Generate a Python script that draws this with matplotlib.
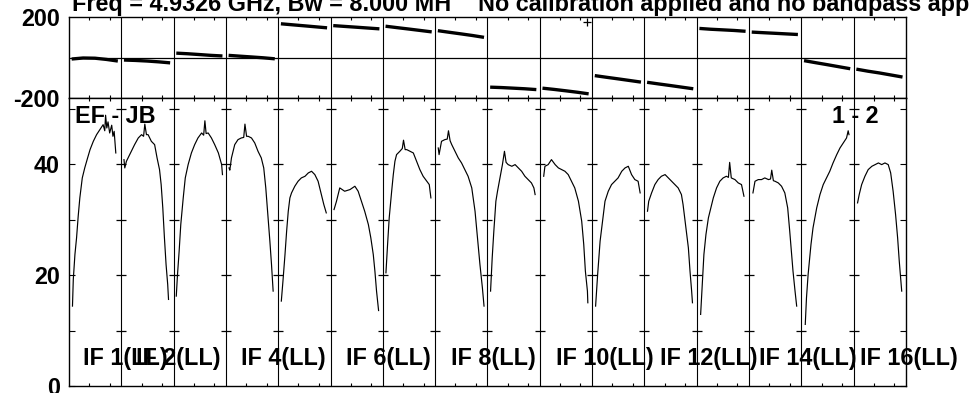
import numpy as np
import matplotlib
matplotlib.use("Agg")
import matplotlib.pyplot as plt

plt.rcParams['font.family'] = ['Liberation Sans', 'DejaVu Sans']
plt.rcParams['font.weight'] = 'bold'
plt.rcParams['axes.unicode_minus'] = False
FS = 16.8

N_CHAN = 128
N_IF = 16

# ---------------- amplitude (Jy) per IF : channel, value ----------------
ch01 = [9, 11, 15, 19, 23, 27, 33, 39, 46, 52, 60, 68, 76, 84, 88, 90, 93, 96, 100, 105, 108, 111, 115]
amp01 = [14.4, 19.2, 23.7, 26.7, 30.6, 33.9, 37.5, 39.3, 41.1, 42.6, 44.1, 45.3, 46.2, 47.1, 46.0, 48.8, 46.5, 47.6, 45.6, 47.0, 45.0, 45.9, 42.0]
ch02 = [7, 9, 13, 17, 25, 33, 42, 50, 55, 58, 62, 66, 74, 82, 88, 94, 98, 102, 106, 110, 114, 116]
amp02 = [40.8, 39.3, 40.5, 41.1, 42.3, 43.5, 44.7, 45.3, 45.0, 47.2, 45.3, 45.3, 44.1, 43.5, 41.1, 39.0, 36.3, 32.1, 26.7, 21.9, 18.3, 15.6]
ch03 = [7, 10, 14, 18, 24, 29, 36, 44, 52, 60, 69, 74, 77, 80, 85, 93, 101, 110, 118, 120]
amp03 = [16.2, 20.1, 24.3, 29.1, 33.9, 37.5, 39.9, 42.0, 43.5, 44.7, 45.6, 45.2, 47.8, 45.5, 45.6, 44.7, 43.5, 42.0, 39.9, 38.1]
ch04 = [8, 10, 14, 22, 30, 38, 44, 47, 51, 55, 63, 71, 79, 87, 93, 98, 103, 108, 112, 116]
amp04 = [39.3, 38.9, 41.1, 43.5, 44.4, 44.7, 44.8, 47.2, 45.0, 45.0, 44.7, 43.8, 42.3, 41.1, 39.3, 35.7, 30.9, 26.1, 21.9, 17.1]
ch05 = [8, 12, 17, 21, 25, 29, 33, 41, 49, 57, 66, 74, 82, 90, 98, 106, 112, 118]
amp05 = [15.3, 18.9, 23.7, 27.9, 31.5, 33.9, 34.8, 36.0, 36.9, 37.5, 37.8, 38.4, 38.7, 38.1, 36.9, 34.5, 32.7, 31.2]
ch06 = [9, 15, 23, 35, 48, 60, 68, 76, 84, 93, 99, 105, 109, 113, 118]
amp06 = [31.8, 33.3, 35.7, 35.1, 35.4, 36.0, 35.1, 33.3, 31.5, 29.1, 26.7, 23.7, 20.7, 17.1, 13.6]
ch07 = [8, 12, 16, 22, 26, 30, 34, 42, 48, 51, 55, 59, 67, 75, 83, 91, 99, 108, 114, 118]
amp07 = [20.4, 25.5, 30.3, 35.1, 38.1, 40.5, 41.7, 42.3, 42.8, 44.3, 42.6, 42.6, 42.3, 42.0, 40.5, 39.0, 37.8, 36.9, 36.3, 33.9]
ch08 = [8, 10, 16, 24, 30, 33, 37, 41, 49, 57, 65, 73, 81, 90, 98, 104, 110, 116, 120]
amp08 = [42.9, 41.7, 44.1, 44.4, 44.5, 46.0, 44.2, 43.5, 42.3, 41.1, 40.2, 39.0, 37.8, 35.7, 31.5, 26.7, 21.9, 17.7, 14.4]
ch09 = [8, 12, 16, 21, 25, 31, 37, 42, 46, 51, 60, 68, 76, 84, 92, 100, 108, 114, 117]
amp09 = [17.1, 23.1, 27.9, 33.3, 35.1, 37.5, 39.9, 42.3, 40.3, 39.9, 39.6, 39.9, 39.3, 38.7, 37.8, 37.2, 36.6, 35.7, 34.5]
ch10 = [10, 13, 21, 29, 38, 46, 54, 62, 70, 78, 86, 95, 103, 108, 112, 117, 118]
amp10 = [37.8, 39.6, 39.9, 40.8, 39.9, 39.3, 39.0, 38.7, 38.1, 36.9, 35.7, 33.3, 29.7, 25.5, 20.7, 17.1, 15.0]
ch11 = [9, 14, 20, 24, 28, 32, 40, 48, 56, 64, 73, 81, 89, 97, 105, 113, 118]
amp11 = [14.4, 20.1, 26.1, 28.5, 30.9, 33.3, 35.1, 36.3, 36.9, 37.5, 38.7, 39.3, 39.6, 38.1, 37.2, 36.9, 34.8]
ch12 = [8, 11, 18, 26, 34, 42, 51, 59, 67, 75, 83, 91, 95, 99, 103, 108, 112, 116, 118]
amp12 = [31.5, 33.3, 34.8, 36.3, 37.2, 37.8, 38.1, 37.5, 36.9, 36.3, 35.7, 34.5, 32.7, 30.3, 27.9, 24.9, 20.7, 17.1, 15.0]
ch13 = [10, 14, 18, 23, 29, 35, 41, 49, 57, 65, 73, 78, 81, 85, 94, 102, 110, 116]
amp13 = [12.9, 18.3, 23.7, 27.3, 30.3, 32.1, 33.9, 35.7, 36.9, 37.5, 37.8, 37.6, 40.3, 37.5, 37.2, 36.6, 36.3, 34.2]
ch14 = [10, 15, 23, 31, 39, 48, 53, 56, 60, 64, 72, 80, 88, 95, 100, 104, 108, 113, 117]
amp14 = [34.8, 36.9, 37.2, 37.2, 37.5, 37.2, 37.3, 38.9, 37.0, 36.9, 36.6, 36.0, 34.8, 32.1, 27.9, 24.3, 20.7, 17.1, 14.4]
ch15 = [10, 13, 17, 24, 29, 38, 46, 54, 62, 70, 78, 87, 95, 103, 111, 115, 117]
amp15 = [11.1, 15.9, 20.1, 25.5, 28.5, 32.1, 34.5, 36.3, 37.5, 38.7, 40.2, 41.7, 42.9, 43.8, 44.7, 46.0, 45.3]
ch16 = [10, 14, 20, 28, 36, 45, 53, 61, 69, 77, 85, 91, 97, 103, 108, 112, 116, 118]
amp16 = [33.0, 34.5, 36.3, 37.8, 39.0, 39.6, 39.9, 40.2, 39.9, 40.2, 39.9, 38.4, 35.1, 30.9, 26.7, 22.5, 18.9, 17.1]

# ---------------- phase (deg) per IF ----------------
phase_ch = [7, 35, 64, 92, 120]
ph01 = [-6, -1, -2, -8, -16]
ph02 = [-11, -13, -16, -20, -25]
ph03 = [23, 20, 16, 12, 9]
ph04 = [12, 8, 4, 0, -5]
ph05 = [168, 163, 158, 153, 148]
ph06 = [159, 155, 151, 147, 143]
ph07 = [156, 149, 142, 135, 128]
ph08 = [134, 126, 118, 110, 101]
ph09 = [-145, -147, -150, -153, -157]
ph10 = [-150, -156, -163, -170, -178]
ph11 = [-88, -96, -104, -112, -120]
ph12 = [-121, -129, -137, -145, -153]
ph13 = [145, 141, 138, 135, 131]
ph14 = [127, 124, 121, 118, 115]
ph15 = [-14, -24, -34, -44, -54]
ph16 = [-56, -66, -75, -85, -95]

# stray phase point
outlier_if = [10]
outlier_ch = [116]
outlier_ph = [178]

if_labels = ['IF 1(LL)', 'IF 2(LL)', 'IF 4(LL)', 'IF 6(LL)', 'IF 8(LL)',
             'IF 10(LL)', 'IF 12(LL)', 'IF 14(LL)', 'IF 16(LL)']
label_if = [1, 2, 4, 6, 8, 10, 12, 14, 16]

chans = [ch01, ch02, ch03, ch04, ch05, ch06, ch07, ch08,
         ch09, ch10, ch11, ch12, ch13, ch14, ch15, ch16]
amps = [amp01, amp02, amp03, amp04, amp05, amp06, amp07, amp08,
        amp09, amp10, amp11, amp12, amp13, amp14, amp15, amp16]
phases = [ph01, ph02, ph03, ph04, ph05, ph06, ph07, ph08,
          ph09, ph10, ph11, ph12, ph13, ph14, ph15, ph16]

W, H = 970, 393
fig = plt.figure(figsize=(W / 100, H / 100), dpi=100)
L, R = 69, 906
ax_ph = fig.add_axes([L / W, 1 - 98.3 / H, (R - L) / W, 81 / H])
ax_amp = fig.add_axes([L / W, 1 - 386 / H, (R - L) / W, 287.7 / H])

for k in range(N_IF):
    off = k * N_CHAN
    ax_amp.plot(off + np.array(chans[k]), amps[k], color='k', lw=0.85, zorder=4)
    ax_ph.plot(off + np.array(phase_ch), phases[k], color='k', lw=2.4,
               solid_capstyle='butt', zorder=4)

for i, c, p in zip(outlier_if, outlier_ch, outlier_ph):
    ax_ph.plot((i - 1) * N_CHAN + c, p, ls='none', marker='+', ms=6, mew=0.9, color='k')

ax_ph.axhline(0, color='k', lw=0.9)

seps = [k * N_CHAN + 0.5 for k in range(1, N_IF)]
for s in seps:
    for ax in (ax_ph, ax_amp):
        ax.axvline(s, color='k', lw=0.8, zorder=3)
    ax_amp.plot([s] * 5, [10, 20, 30, 40, 50], ls='none', marker='_', ms=7,
                mew=0.9, color='k', zorder=3)

xt = [k * N_CHAN + c for k in range(N_IF) for c in (50, 100)]
for ax in (ax_ph, ax_amp):
    ax.set_xlim(0.5, N_IF * N_CHAN + 0.5)
    ax.set_xticks(xt)
    ax.tick_params(axis='x', direction='in', top=True, bottom=True,
                   length=2.5, width=0.8, labelbottom=False)
    for sp in ax.spines.values():
        sp.set_linewidth(1.0)

ax_ph.set_ylim(-200, 200)
ax_ph.set_yticks([-200, 200])
ax_ph.tick_params(axis='y', length=0, labelsize=FS, pad=6.5)

ax_amp.set_ylim(0, 51.85)
ax_amp.set_yticks([0, 20, 40])
ax_amp.set_yticks([10, 30, 50], minor=True)
ax_amp.tick_params(axis='y', which='both', direction='in', left=True, right=True,
                   length=4, width=0.8, labelsize=FS, pad=6.5)

ax_amp.text(0.007, 48.5, 'EF - JB', transform=ax_amp.get_yaxis_transform(),
            ha='left', va='center', fontsize=FS, fontweight='bold')
ax_amp.text(0.9666, 48.5, '1 - 2', transform=ax_amp.get_yaxis_transform(),
            ha='right', va='center', fontsize=FS, fontweight='bold')

label_off = [35, 36, 37, 37, 39, 39, 39, 24, 16]
for lab, i, o in zip(if_labels, label_if, label_off):
    ax_amp.text((i - 1) * N_CHAN + 0.5 + o, 5.0, lab, ha='left', va='center',
                fontsize=FS, fontweight='bold', clip_on=False)

fig.text(72 / W, 1 - 10.5 / H, 'Freq = 4.9326 GHz, Bw = 8.000 MH',
         va='baseline', ha='left', fontsize=FS, fontweight='bold')
fig.text(478 / W, 1 - 10.5 / H, 'No calibration applied and no bandpass app',
         va='baseline', ha='left', fontsize=FS, fontweight='bold')

fig.savefig('out.png', dpi=100)
